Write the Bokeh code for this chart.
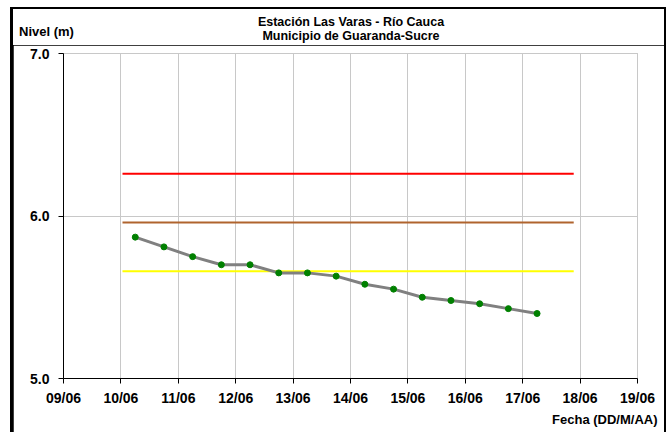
from datetime import datetime
from bokeh.plotting import figure
from bokeh.layouts import column
from bokeh.models import Range1d, FixedTicker, DatetimeTickFormatter, NumeralTickFormatter, Title, Div
from bokeh.embed import file_html
from bokeh.resources import INLINE

# ---- data ----
fechas = [
    datetime(2023, 6, 10, 6), datetime(2023, 6, 10, 18),
    datetime(2023, 6, 11, 6), datetime(2023, 6, 11, 18),
    datetime(2023, 6, 12, 6), datetime(2023, 6, 12, 18),
    datetime(2023, 6, 13, 6), datetime(2023, 6, 13, 18),
    datetime(2023, 6, 14, 6), datetime(2023, 6, 14, 18),
    datetime(2023, 6, 15, 6), datetime(2023, 6, 15, 18),
    datetime(2023, 6, 16, 6), datetime(2023, 6, 16, 18),
    datetime(2023, 6, 17, 6),
]
nivel = [5.87, 5.81, 5.75, 5.70, 5.70, 5.65, 5.65, 5.63, 5.58, 5.55, 5.50, 5.48, 5.46, 5.43, 5.40]

umbral_inicio = datetime(2023, 6, 10, 0, 40)
umbral_fin = datetime(2023, 6, 17, 21, 20)
umbral_rojo = 6.26
umbral_naranja = 5.96
umbral_amarillo = 5.66

dias = [datetime(2023, 6, d) for d in range(9, 20)]
niveles_ticks = [5.0, 6.0, 7.0]

titulo_1 = "Estación Las Varas - Río Cauca"
titulo_2 = "Municipio de Guaranda-Sucre"
etiqueta_y = "Nivel (m)"
etiqueta_x = "Fecha (DD/M/AA)"

FONT = "Liberation Sans"
W = 651
TOP_H = 36
FIG_H = 387


def ms(d):
    return (d - datetime(1970, 1, 1)).total_seconds() * 1000.0


p = figure(width=W, height=FIG_H, output_backend="svg", toolbar_location=None,
           x_axis_type="datetime",
           x_range=Range1d(dias[0], dias[-1]), y_range=Range1d(5.0, 7.0),
           min_border_left=50, min_border_right=27, min_border_top=8, min_border_bottom=54,
           margin=(0, 2, 0, 3))
p.background_fill_color = "white"
p.border_fill_color = "white"
p.outline_line_color = "#c8c8c8"

# grids
p.xgrid.ticker = FixedTicker(ticks=[ms(d) for d in dias])
p.xgrid.grid_line_color = "#c8c8c8"
p.ygrid.ticker = FixedTicker(ticks=niveles_ticks)
p.ygrid.grid_line_color = "#c8c8c8"

# axes
p.xaxis.ticker = FixedTicker(ticks=[ms(d) for d in dias])
p.xaxis.formatter = DatetimeTickFormatter(days="%d/%m", hours="%d/%m", months="%d/%m")
p.yaxis.ticker = FixedTicker(ticks=niveles_ticks)
p.yaxis.formatter = NumeralTickFormatter(format="0.0")
for ax in (p.xaxis[0], p.yaxis[0]):
    ax.axis_line_color = "black"
    ax.axis_line_width = 1
    ax.major_tick_line_color = "black"
    ax.major_tick_out = 5
    ax.major_tick_in = 0
    ax.minor_tick_line_color = None
    ax.major_label_text_font = FONT
    ax.major_label_text_font_style = "bold"
    ax.major_label_text_color = "black"
    ax.major_label_text_font_size = "14px"
p.xaxis.major_label_standoff = 6
p.yaxis.major_label_standoff = 9

# threshold lines
p.line([umbral_inicio, umbral_fin], [umbral_rojo, umbral_rojo], line_color="#ff0000", line_width=2)
p.line([umbral_inicio, umbral_fin], [umbral_naranja, umbral_naranja], line_color="#b0642e", line_width=2)
p.line([umbral_inicio, umbral_fin], [umbral_amarillo, umbral_amarillo], line_color="#ffff00", line_width=2)

# series
p.line(fechas, nivel, line_color="#808080", line_width=3)
p.scatter(fechas, nivel, size=6, fill_color="#008000", line_color="#008000")

# x-axis caption, bottom right
p.add_layout(Title(text=etiqueta_x, align="right", offset=-20, standoff=3,
                   text_font=FONT, text_font_style="bold", text_font_size="13px",
                   text_color="black"), "below")

# header with title and y caption
txt = ("font-family:'Liberation Sans';font-weight:bold;font-size:12.5px;line-height:14px;"
       "color:black;position:absolute;white-space:nowrap;")
header_html = (
    f'<div style="position:relative;width:{W}px;height:{TOP_H}px;background:white;">'
    f'<div style="{txt}left:38px;top:6px;width:600px;text-align:center;">{titulo_1}</div>'
    f'<div style="{txt}left:38px;top:20px;width:600px;text-align:center;">{titulo_2}</div>'
    f'<div style="{txt}font-size:13px;left:6px;top:16px;">{etiqueta_y}</div>'
    '</div>'
)
header = Div(text=header_html, width=W, height=TOP_H, margin=(2, 2, 0, 3),
             styles={"background-color": "white"})

layout = column(header, p, spacing=0, margin=(7, 0, 0, 10),
                styles={"background-color": "black"})

open("out.html", "w").write(file_html(layout, INLINE))
